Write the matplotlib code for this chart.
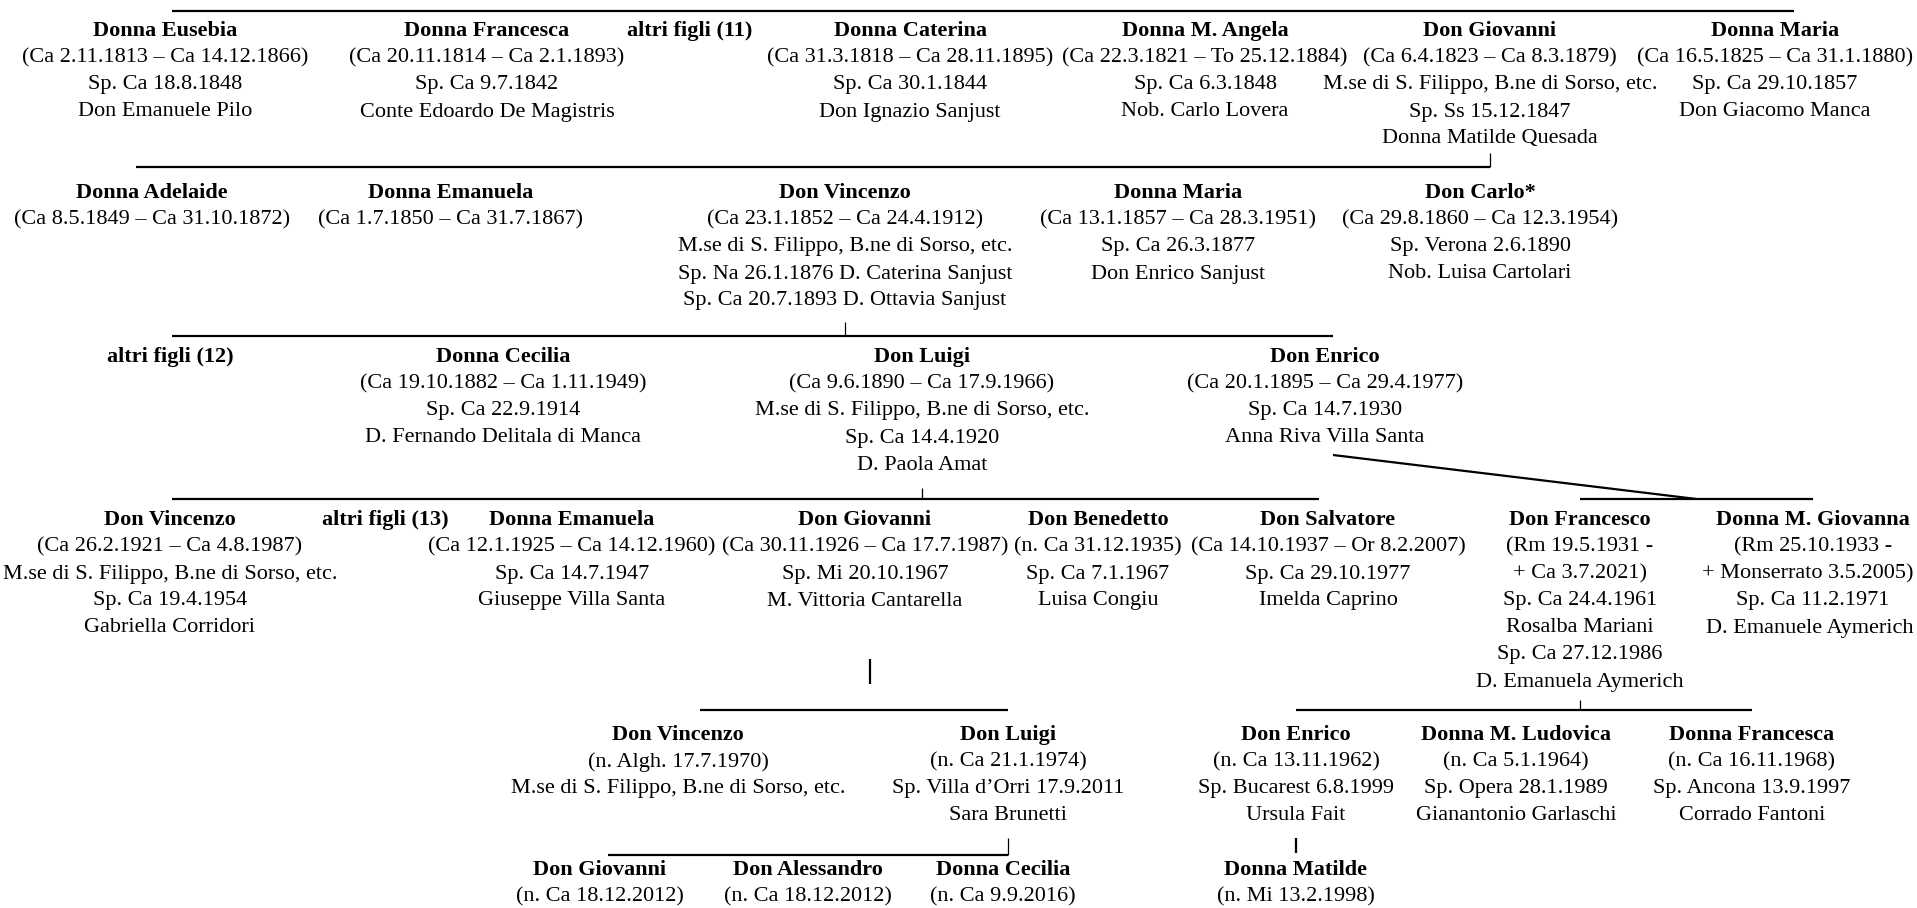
import matplotlib
matplotlib.use("Agg")
import matplotlib.pyplot as plt

# ---- family data, one list per generation ----
gen1_names = ["Donna Eusebia", "Donna Francesca", "altri figli (11)", "Donna Caterina",
              "Donna M. Angela", "Don Giovanni", "Donna Maria"]
gen1_info = [
    ["(Ca 2.11.1813 – Ca 14.12.1866)", "Sp. Ca 18.8.1848", "Don Emanuele Pilo"],
    ["(Ca 20.11.1814 – Ca 2.1.1893)", "Sp. Ca 9.7.1842", "Conte Edoardo De Magistris"],
    [],
    ["(Ca 31.3.1818 – Ca 28.11.1895)", "Sp. Ca 30.1.1844", "Don Ignazio Sanjust"],
    ["(Ca 22.3.1821 – To 25.12.1884)", "Sp. Ca 6.3.1848", "Nob. Carlo Lovera"],
    ["(Ca 6.4.1823 – Ca 8.3.1879)", "M.se di S. Filippo, B.ne di Sorso, etc.",
     "Sp. Ss 15.12.1847", "Donna Matilde Quesada"],
    ["(Ca 16.5.1825 – Ca 31.1.1880)", "Sp. Ca 29.10.1857", "Don Giacomo Manca"],
]

gen2_names = ["Donna Adelaide", "Donna Emanuela", "Don Vincenzo", "Donna Maria", "Don Carlo*"]
gen2_info = [
    ["(Ca 8.5.1849 – Ca 31.10.1872)"],
    ["(Ca 1.7.1850 – Ca 31.7.1867)"],
    ["(Ca 23.1.1852 – Ca 24.4.1912)", "M.se di S. Filippo, B.ne di Sorso, etc.",
     "Sp. Na 26.1.1876 D. Caterina Sanjust", "Sp. Ca 20.7.1893 D. Ottavia Sanjust"],
    ["(Ca 13.1.1857 – Ca 28.3.1951)", "Sp. Ca 26.3.1877", "Don Enrico Sanjust"],
    ["(Ca 29.8.1860 – Ca 12.3.1954)", "Sp. Verona 2.6.1890", "Nob. Luisa Cartolari"],
]

gen3_names = ["altri figli (12)", "Donna Cecilia", "Don Luigi", "Don Enrico"]
gen3_info = [
    [],
    ["(Ca 19.10.1882 – Ca 1.11.1949)", "Sp. Ca 22.9.1914", "D. Fernando Delitala di Manca"],
    ["(Ca 9.6.1890 – Ca 17.9.1966)", "M.se di S. Filippo, B.ne di Sorso, etc.",
     "Sp. Ca 14.4.1920", "D. Paola Amat"],
    ["(Ca 20.1.1895 – Ca 29.4.1977)", "Sp. Ca 14.7.1930", "Anna Riva Villa Santa"],
]

gen4_names = ["Don Vincenzo", "altri figli (13)", "Donna Emanuela", "Don Giovanni",
              "Don Benedetto", "Don Salvatore", "Don Francesco", "Donna M. Giovanna"]
gen4_info = [
    ["(Ca 26.2.1921 – Ca 4.8.1987)", "M.se di S. Filippo, B.ne di Sorso, etc.",
     "Sp. Ca 19.4.1954", "Gabriella Corridori"],
    [],
    ["(Ca 12.1.1925 – Ca 14.12.1960)", "Sp. Ca 14.7.1947", "Giuseppe Villa Santa"],
    ["(Ca 30.11.1926 – Ca 17.7.1987)", "Sp. Mi 20.10.1967", "M. Vittoria Cantarella"],
    ["(n. Ca 31.12.1935)", "Sp. Ca 7.1.1967", "Luisa Congiu"],
    ["(Ca 14.10.1937 – Or 8.2.2007)", "Sp. Ca 29.10.1977", "Imelda Caprino"],
    ["(Rm 19.5.1931 -", "+ Ca 3.7.2021)", "Sp. Ca 24.4.1961", "Rosalba Mariani",
     "Sp. Ca 27.12.1986", "D. Emanuela Aymerich"],
    ["(Rm 25.10.1933 -", "+ Monserrato 3.5.2005)", "Sp. Ca 11.2.1971", "D. Emanuele Aymerich"],
]

gen5_names = ["Don Vincenzo", "Don Luigi", "Don Enrico", "Donna M. Ludovica", "Donna Francesca"]
gen5_info = [
    ["(n. Algh. 17.7.1970)", "M.se di S. Filippo, B.ne di Sorso, etc."],
    ["(n. Ca 21.1.1974)", "Sp. Villa d’Orri 17.9.2011", "Sara Brunetti"],
    ["(n. Ca 13.11.1962)", "Sp. Bucarest 6.8.1999", "Ursula Fait"],
    ["(n. Ca 5.1.1964)", "Sp. Opera 28.1.1989", "Gianantonio Garlaschi"],
    ["(n. Ca 16.11.1968)", "Sp. Ancona 13.9.1997", "Corrado Fantoni"],
]

gen6_names = ["Don Giovanni", "Don Alessandro", "Donna Cecilia", "Donna Matilde"]
gen6_info = [
    ["(n. Ca 18.12.2012)"],
    ["(n. Ca 18.12.2012)"],
    ["(n. Ca 9.9.2016)"],
    ["(n. Mi 13.2.1998)"],
]

# ---- layout (pixels) ----
W, H = 1917, 908
ROW = 27
gen1_x = [165, 487, 690, 910, 1205, 1490, 1775]
gen2_x = [152, 451, 845, 1178, 1480]
gen3_x = [170, 503, 922, 1325]
gen4_x = [170, 385, 572, 865, 1098, 1328, 1580, 1813]
gen5_x = [678, 1008, 1296, 1516, 1752]
gen6_x = [600, 808, 1003, 1296]
row_y = [31, 193, 357, 520, 735, 870]

gens = [(gen1_names, gen1_info, gen1_x), (gen2_names, gen2_info, gen2_x),
        (gen3_names, gen3_info, gen3_x), (gen4_names, gen4_info, gen4_x),
        (gen5_names, gen5_info, gen5_x), (gen6_names, gen6_info, gen6_x)]

plt.rcParams['font.family'] = ['Liberation Serif', 'DejaVu Serif']
FS = 16

fig = plt.figure(figsize=(W / 100, H / 100), dpi=100)
ax = fig.add_axes([0, 0, 1, 1])
ax.set_xlim(0, W)
ax.set_ylim(H, 0)
ax.axis('off')

texts = []
for (names, info, xs), y0 in zip(gens, row_y):
    for name, lines, x in zip(names, info, xs):
        t = ax.text(x, y0, name, ha='center', va='center', fontsize=FS, fontweight='bold')
        texts.append(t)
        for k, s in enumerate(lines):
            t = ax.text(x, y0 + (k + 1) * ROW, s, ha='center', va='center', fontsize=FS)
            texts.append(t)

# keep every line inside the page
fig.canvas.draw()
rend = fig.canvas.get_renderer()
for t in texts:
    bb = t.get_window_extent(rend)
    x, y = t.get_position()
    if bb.x0 < 3:
        t.set_position((x + 3 - bb.x0, y))
    elif bb.x1 > W - 3:
        t.set_position((x - (bb.x1 - W + 3), y))

# ---- connectors ----
thick = dict(color='black', lw=1.6, solid_capstyle='butt')
thin = dict(color='black', lw=0.9, solid_capstyle='butt')

# sibling bars
ax.plot([172, 1794], [11, 11], **thick)
ax.plot([136, gen1_x[5]], [167, 167], **thick)
ax.plot([172, gen3_x[3] + 8], [336, 336], **thick)
ax.plot([172, 1319], [499, 499], **thick)
ax.plot([gen4_x[6], gen4_x[7]], [499, 499], **thick)
ax.plot([700, gen5_x[1]], [710, 710], **thick)
ax.plot([gen5_x[2], gen5_x[4]], [710, 710], **thick)
ax.plot([608, gen5_x[1]], [855, 855], **thick)

# parent ticks
ax.plot([gen1_x[5]] * 2, [153, 167], **thin)
ax.plot([gen2_x[2]] * 2, [322, 336], **thin)
ax.plot([gen3_x[2]] * 2, [488, 499], **thin)
ax.plot([gen4_x[6]] * 2, [700, 710], **thin)
ax.plot([gen5_x[1]] * 2, [838, 855], **thin)
ax.plot([gen5_x[2]] * 2, [838, 853], **thick)
ax.plot([gen4_x[3] + 5] * 2, [659, 684], **thick)
ax.plot([gen3_x[3] + 8, (gen4_x[6] + gen4_x[7]) / 2], [455, 499], **thick)

fig.savefig('out.png', dpi=100, facecolor='white')
